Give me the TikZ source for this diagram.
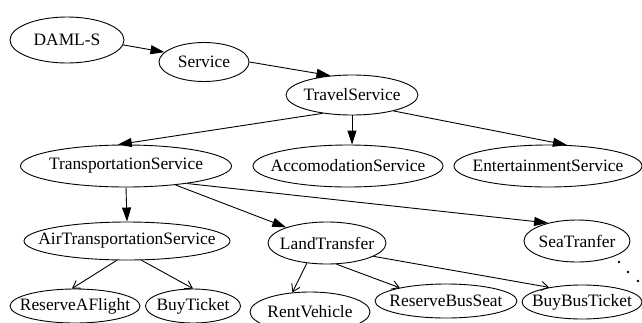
\documentclass[tikz,border=0pt]{standalone}
\usepackage{fontspec}
\setmainfont{Liberation Serif}
\usetikzlibrary{shapes.geometric,arrows.meta}

\newcommand{\svclabel}[1]{\makebox[0pt]{#1}}

\tikzset{
	svc/.style={draw, ellipse, inner sep=0pt, line width=0.9pt, font=\fontsize{17.4}{20}\selectfont},
	isa/.style={line width=0.9pt, -{Triangle[length=14pt,width=9pt]}},
	part/.style={line width=0.9pt, -{Straight Barb[length=7pt,width=9pt]}}
}

\begin{document}
\begin{tikzpicture}[x=1pt, y=-1pt]
		\useasboundingbox (0,0) rectangle (642,322);

		\node (daml)[svc, minimum width=114pt, minimum height=46pt] at (67,40)  {\svclabel{DAML-S}};
		\node (serv)[svc, minimum width=90pt, minimum height=39pt] at (204,62)  {\svclabel{Service}};
		\node (trav)[svc, minimum width=132pt, minimum height=40pt] at (352,95)  {\svclabel{TravelService}};

		\node (trans)[svc, minimum width=211pt, minimum height=42pt] at (126,166)  {\svclabel{TransportationService}};
		\node (acco)[svc, minimum width=190pt, minimum height=42pt] at (348,166)  {\svclabel{AccomodationService}};
		\node (ent)[svc, minimum width=188pt, minimum height=42pt] at (548,166)  {\svclabel{EntertainmentService}};

		\node (air)[svc, minimum width=206pt, minimum height=38pt] at (127,241)  {\svclabel{AirTransportationService}};
		\node (land)[svc, minimum width=118pt, minimum height=42pt] at (327,243)  {\svclabel{LandTransfer}};
		\node (sea)[svc, minimum width=106pt, minimum height=42pt] at (577,241)  {\svclabel{SeaTranfer}};

		\node (flight)[svc, minimum width=130pt, minimum height=34pt] at (75,306)  {\svclabel{ReserveAFlight}};
		\node (ticket)[svc, minimum width=95pt, minimum height=34pt] at (193,306)  {\svclabel{BuyTicket}};
		\node (rent)[svc, minimum width=120pt, minimum height=40pt] at (310,312)  {\svclabel{RentVehicle}};
		\node (seat)[svc, minimum width=142pt, minimum height=34pt] at (446,301)  {\svclabel{ReserveBusSeat}};
		\node (bus)[svc, minimum width=120pt, minimum height=34pt] at (582,302)  {\svclabel{BuyBusTicket}};

		\draw[isa] (daml.355) -- (serv.166);
		\draw[isa] (serv.east) -- (trav.138);
		\draw[isa] (trav.212) -- (trans.111);
		\draw[isa] (trav.south) -- (trav.south |- acco.north);
		\draw[isa] (trav.339) -- (ent.48);
		\draw[isa] (trans.south) -- (air.north);
		\draw[isa] (trans) -- (land);
		\draw[isa] (trans.344) -- (sea.148);

		\draw[part] (air.242) -- (flight.100);
		\draw[part] (air.307) -- (ticket.north);
		\draw[part] (land.225) -- (rent.132);
		\draw[part] (land.294) -- (seat.164);
		\draw[part] (land.344) -- (bus.156);

		\fill (619,262) circle (1.3pt);
		\fill (628,272) circle (1.3pt);
		\fill (638,281) circle (1.3pt);
	\end{tikzpicture}
\end{document}
